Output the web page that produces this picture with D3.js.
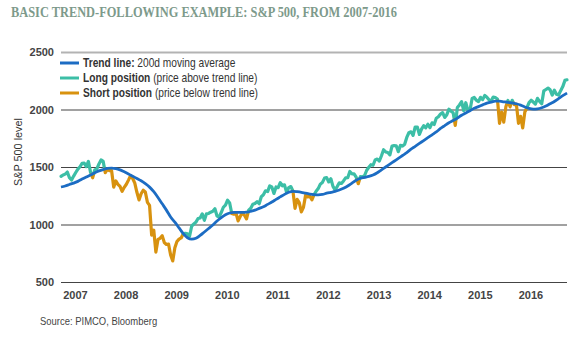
<!DOCTYPE html>
<html>
<head>
<meta charset="utf-8">
<title>Trend following</title>
<script src="https://cdn.jsdelivr.net/npm/d3@7"></script>
<style>
body { margin: 0; background: #fff; }
text { font-family: "Liberation Sans", sans-serif; }
.grid line { stroke: #444; stroke-width: 1.2; }
.grid text { font-size: 11px; font-weight: bold; fill: #444; }
.xaxis text { font-size: 11px; font-weight: bold; fill: #444; }
</style>
</head>
<body>
<script>
const years = [2007, 2008, 2009, 2010, 2011, 2012, 2013, 2014, 2015, 2016]
const yTicks = [500, 1000, 1500, 2000, 2500]

// S&P 500, twice a month from Jan 2007
const priceStart = 2007
const price = [
  1418, 1431, 1438, 1456, 1407, 1387, 1421, 1452, 1482, 1502, 1531, 1533, 1503, 1549, 1455, 1406, 1474, 1484, 1527, 1562, 1549, 1451, 1481, 1468,
  1468, 1325, 1379, 1349, 1331, 1288, 1323, 1350, 1386, 1425, 1400, 1360, 1280, 1214, 1267, 1298, 1283, 1192, 1166, 907, 950, 760, 870, 880,
  903, 843, 826, 830, 735, 683, 798, 852, 873, 883, 919, 924, 919, 900, 987, 1004, 1021, 1052, 1057, 1093, 1036, 1093, 1096, 1107,
  1115, 1137, 1074, 1066, 1104, 1150, 1169, 1211, 1187, 1095, 1089, 1100, 1031, 1070, 1102, 1080, 1049, 1125, 1141, 1176, 1183, 1199, 1181, 1242,
  1258, 1293, 1286, 1336, 1327, 1270, 1326, 1320, 1364, 1337, 1345, 1280, 1321, 1330, 1292, 1140, 1219, 1190, 1110, 1150, 1253, 1240, 1247, 1215,
  1258, 1289, 1312, 1351, 1366, 1403, 1408, 1370, 1398, 1331, 1300, 1330, 1362, 1357, 1379, 1405, 1407, 1461, 1441, 1441, 1412, 1355, 1416, 1414,
  1426, 1472, 1498, 1520, 1515, 1561, 1569, 1552, 1598, 1650, 1631, 1626, 1606, 1682, 1686, 1685, 1633, 1688, 1682, 1698, 1757, 1798, 1806, 1775,
  1848, 1848, 1783, 1829, 1859, 1841, 1872, 1842, 1884, 1870, 1924, 1937, 1960, 1973, 1931, 1955, 2003, 1985, 1972, 1862, 2018, 2040, 2068, 1990,
  2059, 1992, 1995, 2096, 2105, 2081, 2068, 2106, 2086, 2123, 2107, 2084, 2075, 2108, 2104, 2091, 1880, 1978, 1890, 2023, 2079, 2023, 2080, 2043,
  2044, 1880, 1940, 1840, 1978, 2015, 2060, 2081, 2065, 2047, 2097, 2071, 2050, 2162, 2174, 2186, 2171, 2125, 2168, 2133, 2126, 2164, 2199, 2253,
  2258
]

// 200-day moving average, monthly from Jan 2007
const trendStart = 2007
const trend = [
  1326, 1335, 1348, 1360, 1375, 1395, 1413, 1430, 1450, 1466, 1478, 1488,
  1490, 1486, 1475, 1458, 1440, 1420, 1400, 1380, 1355, 1325, 1285, 1235,
  1180, 1125, 1065, 1020, 970, 920, 885, 872, 880, 905, 935, 965,
  995, 1030, 1060, 1085, 1100, 1105, 1105, 1105, 1107, 1115, 1125, 1140,
  1155, 1175, 1195, 1218, 1240, 1262, 1280, 1288, 1285, 1280, 1272, 1265,
  1260, 1258, 1262, 1272, 1280, 1288, 1300, 1315, 1335, 1360, 1385, 1402,
  1410, 1418, 1430, 1450, 1475, 1500, 1525, 1550, 1575, 1600, 1625, 1655,
  1680, 1705, 1730, 1755, 1780, 1805, 1835, 1860, 1885, 1905, 1925, 1950,
  1970, 1990, 2010, 2025, 2040, 2055, 2065, 2072, 2072, 2067, 2062, 2058,
  2050, 2038, 2022, 2010, 2004, 2006, 2015, 2030, 2050, 2070, 2095, 2120,
  2143
]

const legendItems = [
  {key: "trend", bold: "Trend line:", rest: " 200d moving average"},
  {key: "long", bold: "Long position", rest: " (price above trend line)"},
  {key: "short", bold: "Short position", rest: " (price below trend line)"}
]

const colors = {trend: "#1c6cc3", long: "#3cbea6", short: "#d8920f"}

const W = 577, H = 338
const margin = {left: 61, right: 567, top: 52, bottom: 282}

const x = d3.scaleLinear().domain([2007, 2017]).range([margin.left, margin.right])
const y = d3.scaleLinear().domain([500, 2500]).range([margin.bottom, margin.top])

const svg = d3.select("body").append("svg")
    .attr("width", W)
    .attr("height", H)

svg.append("text")
    .attr("x", 11)
    .attr("y", 17)
    .attr("textLength", 386)
    .attr("lengthAdjust", "spacingAndGlyphs")
    .style("font-family", "'Liberation Serif', serif")
    .style("font-weight", "bold")
    .style("font-size", "14px")
    .style("fill", "#7d9a8b")
    .text("BASIC TREND-FOLLOWING EXAMPLE: S&P 500, FROM 2007-2016")

// grid + y labels
const grid = svg.append("g")
    .attr("class", "grid")
    .attr("transform", "translate(" + margin.left + ",0)")
    .call(d3.axisLeft(y).tickValues(yTicks).tickFormat(d3.format("d"))
      .tickSize(-(margin.right - margin.left)).tickPadding(7))
grid.select(".domain").remove()
grid.selectAll(".tick")
    .filter(d => d === 2500)
    .select("line")
    .style("stroke", "#b3b3b3")
    .style("stroke-width", 2)

// x labels
const xa = svg.append("g")
    .attr("class", "xaxis")
    .attr("transform", "translate(0," + margin.bottom + ")")
    .call(d3.axisBottom(x).tickValues(years).tickFormat(d3.format("d")).tickSize(0).tickPadding(9))
xa.select(".domain").remove()
xa.selectAll("text").attr("dx", 14)

svg.append("text")
    .attr("transform", "translate(22,152) rotate(-90)")
    .attr("text-anchor", "middle")
    .attr("textLength", 68)
    .attr("lengthAdjust", "spacingAndGlyphs")
    .style("font-size", "11px")
    .style("fill", "#333")
    .text("S&P 500 level")

// price coloured by side of trend line
const trendDates = trend.map((d, i) => trendStart + i / 12)
const trendAt = d3.scaleLinear().domain(trendDates).range(trend)
const pts = price.map((v, i) => {
  const t = priceStart + i / 24
  return {t: t, v: v, d: v - trendAt(t)}
})

const runs = []
let cur = {long: pts[0].d >= 0, pts: [pts[0]]}
for (let i = 1; i < pts.length; i++) {
  const a = pts[i - 1], b = pts[i]
  const long = b.d >= 0
  if (long !== cur.long) {
    const f = a.d / (a.d - b.d)
    const c = {t: a.t + f * (b.t - a.t), v: a.v + f * (b.v - a.v)}
    cur.pts.push(c)
    runs.push(cur)
    cur = {long: long, pts: [c]}
  }
  cur.pts.push(b)
}
runs.push(cur)

const line = d3.line()
    .x(d => x(d.t))
    .y(d => y(d.v))

svg.append("g").selectAll("path")
  .data(runs)
  .enter().append("path")
    .attr("d", d => line(d.pts))
    .style("fill", "none")
    .style("stroke", d => d.long ? colors.long : colors.short)
    .style("stroke-width", 3.2)
    .style("stroke-linejoin", "round")
    .style("stroke-linecap", "round")

const trendLine = d3.line()
    .curve(d3.curveMonotoneX)
    .x((d, i) => x(trendDates[i]))
    .y(d => y(d))

svg.append("path")
    .attr("d", trendLine(trend))
    .style("fill", "none")
    .style("stroke", colors.trend)
    .style("stroke-width", 2.8)

// legend
const lg = svg.append("g").selectAll("g")
  .data(legendItems)
  .enter().append("g")
    .attr("transform", (d, i) => "translate(60," + (63 + i * 15) + ")")
lg.append("line")
    .attr("x1", 0).attr("x2", 19)
    .style("stroke", d => colors[d.key])
    .style("stroke-width", 3)
const lt = lg.append("text")
    .attr("transform", "translate(23,4) scale(0.85,1)")
    .style("font-size", "12px")
    .style("fill", "#333")
lt.append("tspan").style("font-weight", "bold").text(d => d.bold)
lt.append("tspan").text(d => d.rest)

svg.append("text")
    .attr("transform", "translate(40,325) scale(0.86,1)")
    .style("font-size", "11px")
    .style("fill", "#444")
    .text("Source: PIMCO, Bloomberg")
</script>
</body>
</html>
